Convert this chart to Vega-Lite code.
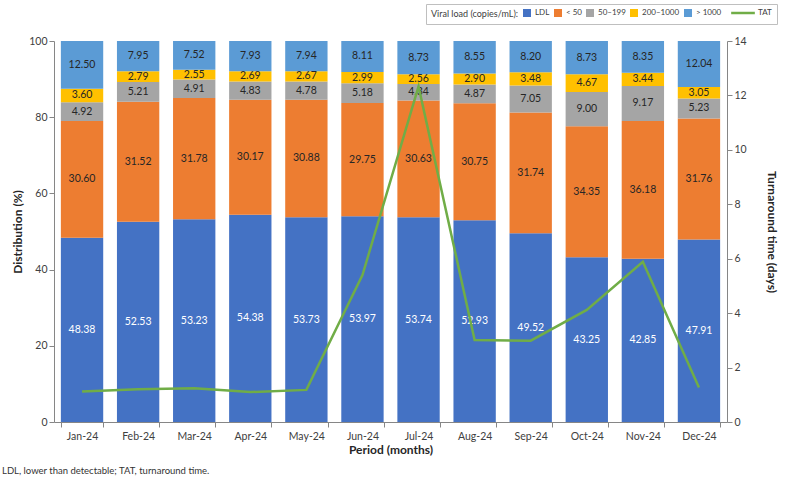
{
  "$schema": "https://vega.github.io/schema/vega-lite/v6.json",
  "width": 673,
  "height": 381,
  "autosize": {"type": "none"},
  "padding": {"top": 41, "left": 54, "right": 61, "bottom": 59},
  "background": "white",
  "config": {
    "font": "Lato",
    "view": {"stroke": null},
    "axis": {
      "grid": false,
      "domainColor": "#868686",
      "tickColor": "#868686",
      "labelColor": "#404040",
      "labelFontSize": 10.5,
      "titleFontSize": 12,
      "titleFontWeight": "bold",
      "titleColor": "#262626",
      "tickSize": 5,
      "labelOverlap": false
    }
  },
  "datasets": {
    "vl": [
      {"month": "Jan-24", "series": "LDL", "value": 48.38},
      {"month": "Jan-24", "series": "< 50", "value": 30.60},
      {"month": "Jan-24", "series": "50–199", "value": 4.92},
      {"month": "Jan-24", "series": "200–1000", "value": 3.60},
      {"month": "Jan-24", "series": "> 1000", "value": 12.50},
      {"month": "Feb-24", "series": "LDL", "value": 52.53},
      {"month": "Feb-24", "series": "< 50", "value": 31.52},
      {"month": "Feb-24", "series": "50–199", "value": 5.21},
      {"month": "Feb-24", "series": "200–1000", "value": 2.79},
      {"month": "Feb-24", "series": "> 1000", "value": 7.95},
      {"month": "Mar-24", "series": "LDL", "value": 53.23},
      {"month": "Mar-24", "series": "< 50", "value": 31.78},
      {"month": "Mar-24", "series": "50–199", "value": 4.91},
      {"month": "Mar-24", "series": "200–1000", "value": 2.55},
      {"month": "Mar-24", "series": "> 1000", "value": 7.52},
      {"month": "Apr-24", "series": "LDL", "value": 54.38},
      {"month": "Apr-24", "series": "< 50", "value": 30.17},
      {"month": "Apr-24", "series": "50–199", "value": 4.83},
      {"month": "Apr-24", "series": "200–1000", "value": 2.69},
      {"month": "Apr-24", "series": "> 1000", "value": 7.93},
      {"month": "May-24", "series": "LDL", "value": 53.73},
      {"month": "May-24", "series": "< 50", "value": 30.88},
      {"month": "May-24", "series": "50–199", "value": 4.78},
      {"month": "May-24", "series": "200–1000", "value": 2.67},
      {"month": "May-24", "series": "> 1000", "value": 7.94},
      {"month": "Jun-24", "series": "LDL", "value": 53.97},
      {"month": "Jun-24", "series": "< 50", "value": 29.75},
      {"month": "Jun-24", "series": "50–199", "value": 5.18},
      {"month": "Jun-24", "series": "200–1000", "value": 2.99},
      {"month": "Jun-24", "series": "> 1000", "value": 8.11},
      {"month": "Jul-24", "series": "LDL", "value": 53.74},
      {"month": "Jul-24", "series": "< 50", "value": 30.63},
      {"month": "Jul-24", "series": "50–199", "value": 4.34},
      {"month": "Jul-24", "series": "200–1000", "value": 2.56},
      {"month": "Jul-24", "series": "> 1000", "value": 8.73},
      {"month": "Aug-24", "series": "LDL", "value": 52.93},
      {"month": "Aug-24", "series": "< 50", "value": 30.75},
      {"month": "Aug-24", "series": "50–199", "value": 4.87},
      {"month": "Aug-24", "series": "200–1000", "value": 2.90},
      {"month": "Aug-24", "series": "> 1000", "value": 8.55},
      {"month": "Sep-24", "series": "LDL", "value": 49.52},
      {"month": "Sep-24", "series": "< 50", "value": 31.74},
      {"month": "Sep-24", "series": "50–199", "value": 7.05},
      {"month": "Sep-24", "series": "200–1000", "value": 3.48},
      {"month": "Sep-24", "series": "> 1000", "value": 8.20},
      {"month": "Oct-24", "series": "LDL", "value": 43.25},
      {"month": "Oct-24", "series": "< 50", "value": 34.35},
      {"month": "Oct-24", "series": "50–199", "value": 9.00},
      {"month": "Oct-24", "series": "200–1000", "value": 4.67},
      {"month": "Oct-24", "series": "> 1000", "value": 8.73},
      {"month": "Nov-24", "series": "LDL", "value": 42.85},
      {"month": "Nov-24", "series": "< 50", "value": 36.18},
      {"month": "Nov-24", "series": "50–199", "value": 9.17},
      {"month": "Nov-24", "series": "200–1000", "value": 3.44},
      {"month": "Nov-24", "series": "> 1000", "value": 8.35},
      {"month": "Dec-24", "series": "LDL", "value": 47.91},
      {"month": "Dec-24", "series": "< 50", "value": 31.76},
      {"month": "Dec-24", "series": "50–199", "value": 5.23},
      {"month": "Dec-24", "series": "200–1000", "value": 3.05},
      {"month": "Dec-24", "series": "> 1000", "value": 12.04}
    ],
    "tat": [
      {"month": "Jan-24", "tat": 1.12},
      {"month": "Feb-24", "tat": 1.20},
      {"month": "Mar-24", "tat": 1.24},
      {"month": "Apr-24", "tat": 1.10},
      {"month": "May-24", "tat": 1.18},
      {"month": "Jun-24", "tat": 5.40},
      {"month": "Jul-24", "tat": 12.33},
      {"month": "Aug-24", "tat": 3.01},
      {"month": "Sep-24", "tat": 2.99},
      {"month": "Oct-24", "tat": 4.12},
      {"month": "Nov-24", "tat": 5.89},
      {"month": "Dec-24", "tat": 1.27}
    ]
  },
  "title": {
    "text": "LDL, lower than detectable; TAT, turnaround time.",
    "orient": "bottom",
    "anchor": "start",
    "frame": "group",
    "fontSize": 9.5,
    "fontWeight": "normal",
    "color": "#333333",
    "dx": -52,
    "offset": 10
  },
  "layer": [
    {
      "data": {"name": "vl"},
      "transform": [
        {"calculate": "indexof(['LDL','< 50','50–199','200–1000','> 1000'], datum.series)", "as": "ord"},
        {"stack": "value", "groupby": ["month"], "sort": [{"field": "ord", "order": "ascending"}], "as": ["y0", "y1"]},
        {"calculate": "(datum.y0 + datum.y1) / 2", "as": "ymid"}
      ],
      "layer": [
        {
          "mark": {"type": "bar"},
          "encoding": {
            "x": {
              "field": "month", "type": "nominal", "sort": null,
              "scale": {"paddingInner": 0.245, "paddingOuter": 0.1225},
              "axis": {"title": "Period (months)", "labelAngle": 0, "tickBand": "extent", "labelPadding": 4, "titlePadding": 3}
            },
            "y": {
              "field": "y0", "type": "quantitative",
              "scale": {"domain": [0, 100]},
              "axis": {"title": "Distribution (%)", "values": [0,10,20,30,40,50,60,70,80,90,100], "titlePadding": 4}
            },
            "y2": {"field": "y1"},
            "color": {
              "field": "series", "type": "nominal",
              "scale": {
                "domain": ["LDL", "< 50", "50–199", "200–1000", "> 1000", "TAT"],
                "range": ["#4472C4", "#ED7D31", "#A5A5A5", "#FFC000", "#5B9BD5", "#70AD47"]
              },
              "legend": {
                "title": "Viral load (copies/mL):",
                "orient": "none",
                "legendX": 372,
                "legendY": -37,
                "direction": "horizontal",
                "titleOrient": "left",
                "titleFontWeight": "normal",
                "titleFontSize": 9,
                "titlePadding": 4,
                "titleColor": "#404040",
                "labelFontSize": 8,
                "labelColor": "#404040",
                "strokeColor": "#bfbfbf",
                "fillColor": "white",
                "padding": 5,
                "symbolType": "square",
                "symbolSize": 64,
                "gridAlign": "none",
                "columnPadding": 4,
                "labelOffset": 4,
                "encode": {
                  "symbols": {
                    "update": {
                      "shape": {"signal": "datum.value === 'TAT' ? 'stroke' : 'square'"},
                      "size": {"signal": "datum.value === 'TAT' ? 560 : 64"},
                      "x": {"signal": "datum.value === 'TAT' ? 12 : 4"},
                      "stroke": {"scale": "color", "field": "value"},
                      "strokeWidth": {"signal": "datum.value === 'TAT' ? 2.5 : 0"}
                    }
                  },
                  "labels": {
                    "update": {
                      "dx": {"signal": "datum.value === 'TAT' ? 15 : 0"}
                    }
                  }
                }
              }
            }
          }
        },
        {
          "mark": {"type": "text", "fontSize": 10.5},
          "encoding": {
            "x": {"field": "month", "type": "nominal", "sort": null},
            "y": {"field": "ymid", "type": "quantitative"},
            "text": {"field": "value", "type": "quantitative", "format": ".2f"},
            "color": {"condition": {"test": "datum.series === 'LDL'", "value": "white"}, "value": "#262626"}
          }
        }
      ]
    },
    {
      "data": {"name": "tat"},
      "mark": {"type": "line", "strokeWidth": 2.5},
      "encoding": {
        "x": {"field": "month", "type": "nominal", "sort": null},
        "y": {
          "field": "tat", "type": "quantitative",
          "scale": {"domain": [0, 14]},
          "axis": {"title": "Turnaround time (days)", "orient": "right", "values": [0,2,4,6,8,10,12,14], "titlePadding": 18}
        },
        "color": {"datum": "TAT"}
      }
    }
  ],
  "resolve": {"scale": {"y": "independent"}}
}
